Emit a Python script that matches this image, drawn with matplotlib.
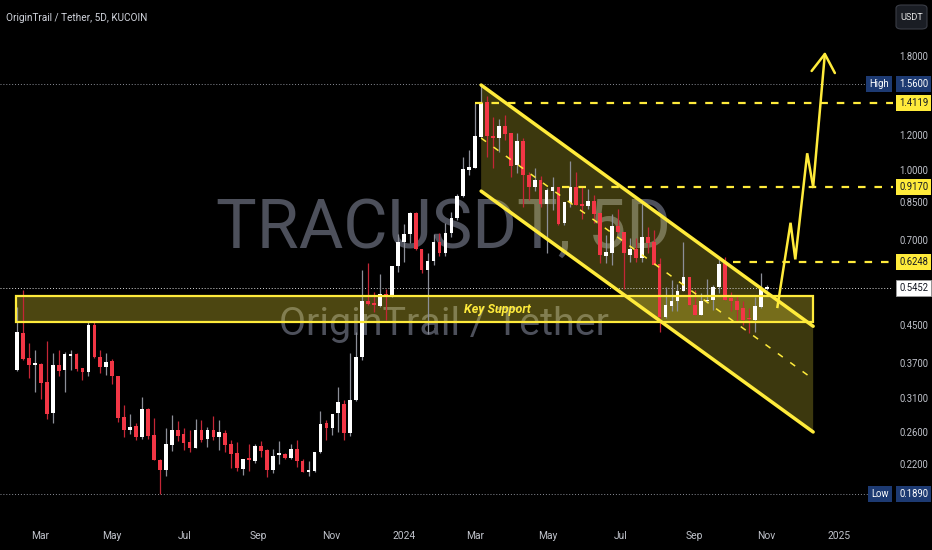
import numpy as np
import pandas as pd
import matplotlib
matplotlib.use("Agg")
import matplotlib.pyplot as plt
import matplotlib.dates as mdates
from matplotlib import font_manager
from matplotlib.patches import Rectangle, Polygon, FancyBboxPatch
from matplotlib.ticker import NullLocator, NullFormatter
from matplotlib.transforms import blended_transform_factory, offset_copy

# ---------------- data ----------------
title_text = "OriginTrail / Tether, 5D, KUCOIN"
watermark_top = "TRACUSDT, 5D"
watermark_bottom = "OriginTrail / Tether"
currency = "USDT"

first_bar = "2023-02-10"
bar_days = 5

opens = [
    .358, .433, .381, .367, .369, .337, .287, .367, .358, .384,
    .388, .361, .354, .452, .383, .363, .375, .347, .281, .262,
    .268, .254, .293, .256, .225, .214, .243, .262, .257, .247,
    .240, .262, .251, .262, .254, .258, .244, .233, .215, .227,
    .224, .242, .237, .214, .231, .232, .227, .238, .224, .212,
    .213, .234, .272, .266, .286, .301, .258, .306, .382, .509,
    .504, .497, .529, .521, .611, .690, .720, .804, .665, .598,
    .627, .690, .654, .725, .780, .875, 1.001, 1.013, 1.188, 1.423,
    1.192, 1.182, 1.257, 1.209, 1.027, 1.162, .975, .918, .951, .840,
    .900, .918, .761, .844, .915, .837, .833, .855, .801, .644,
    .652, .751, .726, .646, .665, .638, .710, .692, .616, .469,
    .497, .509, .537, .577, .500, .475, .509, .513, .547, .619,
    .517, .509, .491, .466, .463, .494, .544,
]
highs = [
    .495, .541, .410, .396, .370, .415, .390, .397, .393, .396,
    .390, .362, .459, .457, .396, .390, .379, .347, .298, .285,
    .272, .311, .294, .279, .226, .265, .284, .275, .266, .263,
    .278, .277, .267, .283, .277, .263, .249, .247, .226, .244,
    .244, .248, .238, .238, .248, .233, .244, .249, .226, .224,
    .235, .290, .276, .285, .328, .306, .390, .436, .598, .619,
    .535, .585, .544, .611, .720, .758, .806, .806, .666, .652,
    .719, .723, .761, .808, .885, 1.072, 1.112, 1.415, 1.560, 1.465,
    1.312, 1.300, 1.328, 1.211, 1.209, 1.178, .992, 1.009, .971, .911,
    .964, .919, .851, 1.050, .992, .915, .907, .880, .802, .716,
    .797, .821, .727, .704, .704, .851, .747, .735, .635, .547,
    .568, .558, .690, .578, .541, .531, .570, .553, .638, .640,
    .533, .526, .509, .491, .521, .590, .553,
]
lows = [
    .355, .376, .344, .320, .308, .278, .272, .347, .320, .358,
    .356, .339, .347, .380, .353, .348, .332, .274, .253, .257,
    .249, .251, .251, .225, .189, .207, .236, .248, .237, .235,
    .239, .247, .241, .250, .237, .235, .216, .213, .208, .213,
    .222, .229, .206, .210, .221, .226, .226, .217, .212, .207,
    .212, .233, .249, .256, .260, .250, .255, .305, .376, .500,
    .483, .494, .463, .520, .593, .625, .686, .663, .590, .430,
    .614, .643, .643, .710, .774, .872, .975, 1.010, 1.184, 1.072,
    1.013, 1.100, 1.168, .967, .987, .829, .858, .900, .829, .654,
    .815, .754, .754, .826, .835, .776, .821, .761, .619, .619,
    .614, .723, .544, .625, .625, .625, .652, .614, .436, .468,
    .485, .485, .536, .499, .474, .474, .508, .487, .531, .514,
    .485, .459, .451, .432, .436, .491, .540,
]
closes = [
    .436, .378, .367, .369, .335, .285, .367, .356, .388, .389,
    .359, .354, .452, .382, .364, .373, .347, .280, .263, .267,
    .254, .293, .255, .225, .214, .244, .262, .255, .246, .240,
    .262, .250, .262, .254, .260, .243, .232, .216, .226, .225,
    .242, .236, .214, .230, .232, .227, .238, .224, .212, .214,
    .234, .271, .266, .285, .303, .258, .306, .383, .509, .502,
    .501, .528, .521, .611, .690, .720, .804, .665, .598, .627,
    .690, .654, .723, .780, .875, 1.004, 1.015, 1.192, 1.411, 1.192,
    1.180, 1.257, 1.205, 1.022, 1.162, .975, .918, .951, .840, .903,
    .915, .757, .851, .918, .836, .833, .855, .798, .646, .655,
    .751, .726, .652, .665, .638, .710, .686, .614, .469, .500,
    .510, .537, .577, .500, .475, .509, .514, .547, .617, .514,
    .509, .487, .463, .464, .497, .544, .5452,
]

price_ticks = [1.8, 1.2, 1.0, 0.85, 0.70, 0.45, 0.37, 0.31, 0.26, 0.22]
month_ticks = ["2023-03-01", "2023-05-01", "2023-07-01", "2023-09-01", "2023-11-01",
               "2024-01-01", "2024-03-01", "2024-05-01", "2024-07-01", "2024-09-01",
               "2024-11-01", "2025-01-01"]
month_labels = ["Mar", "May", "Jul", "Sep", "Nov", "2024", "Mar", "May", "Jul", "Sep",
                "Nov", "2025"]

high_price = 1.56
low_price = 0.189
last_price = 0.5452

level_prices = [1.4119, 0.9170, 0.6248]
level_starts = ["2024-03-01", "2024-05-13", "2024-10-04"]

support_dates = ["2023-02-09", "2024-12-10"]
support_prices = [0.457, 0.524]
support_label = "Key Support"

channel_dates = ["2024-03-06", "2024-12-10"]
channel_upper = [1.55, 0.448]
channel_lower = [0.898, 0.260]

path_dates = ["2024-11-10", "2024-11-21", "2024-11-25", "2024-12-05", "2024-12-10", "2024-12-20"]
path_prices = [0.495, 0.763, 0.632, 1.091, 0.918, 1.84]

# ---------------- style ----------------
BG = "#000000"
YELLOW = "#ffeb3b"
UP_BODY, UP_WICK = "#ffffff", "#8c8f98"
DN_BODY, DN_WICK = "#f23645", "#c42636"
NAVY = "#1d3a72"
AXIS_TXT = "#c0c3cb"
WM_COLOR = "#4d505b"

fonts_present = {f.name for f in font_manager.fontManager.ttflist}
if "Liberation Sans Narrow" in fonts_present:
    UI_FONT, K = "Liberation Sans Narrow", 1.0
else:
    UI_FONT, K = "Roboto", 0.86
plt.rcParams["font.family"] = [UI_FONT, "DejaVu Sans"]

W, H = 932, 550
fig = plt.figure(figsize=(W / 100, H / 100), dpi=100, facecolor=BG)
plot_right, plot_bottom = 893, 522
ax = fig.add_axes([0, (H - plot_bottom) / H, plot_right / W, plot_bottom / H])
ax.set_facecolor(BG)
ax.set_yscale("log")
for s in ax.spines.values():
    s.set_visible(False)

t0 = mdates.date2num(np.datetime64(first_bar))
def dnum(d):
    return mdates.date2num(np.datetime64(d))

xs = mdates.date2num(pd.date_range(first_bar, periods=len(opens), freq=f"{bar_days}D").values)
o, h, l, c = map(np.asarray, (opens, highs, lows, closes))

x_left, x_right = t0 - 14.3, t0 + 736.1
ax.set_xlim(x_left, x_right)
ax.set_ylim(0.1636, 2.401)

# watermark
ax.text(0.497, 0.525, watermark_top, transform=ax.transAxes, ha="center", va="baseline",
        fontsize=57 * K, color=WM_COLOR, zorder=0.2)
ax.text(0.497, 0.358, watermark_bottom, transform=ax.transAxes, ha="center", va="baseline",
        fontsize=33 * K, color=WM_COLOR, zorder=0.2)

# key support zone
s0, s1 = dnum(support_dates[0]), dnum(support_dates[1])
ax.add_patch(Rectangle((s0, support_prices[0]), s1 - s0, support_prices[1] - support_prices[0],
                       facecolor=YELLOW, alpha=0.30, edgecolor="none", zorder=1))
ax.add_patch(Rectangle((s0, support_prices[0]), s1 - s0, support_prices[1] - support_prices[0],
                       facecolor="none", edgecolor=YELLOW, linewidth=1.6, zorder=4))
ax.text(dnum("2024-03-20"), np.sqrt(support_prices[0] * support_prices[1]), support_label,
        ha="center", va="center", color=YELLOW, fontsize=10.5 * K, fontweight="bold",
        fontstyle="italic", zorder=5)

# descending channel
c0, c1 = dnum(channel_dates[0]), dnum(channel_dates[1])
ax.add_patch(Polygon([(c0, channel_upper[0]), (c1, channel_upper[1]),
                      (c1, channel_lower[1]), (c0, channel_lower[0])],
                     closed=True, facecolor=YELLOW, alpha=0.24, edgecolor="none", zorder=1))
ax.plot([c0, c1], channel_upper, color=YELLOW, linewidth=2.5, solid_capstyle="round", zorder=4)
ax.plot([c0, c1], channel_lower, color=YELLOW, linewidth=2.5, solid_capstyle="round", zorder=4)
mid = np.sqrt(np.asarray(channel_upper) * np.asarray(channel_lower))
ax.plot([c0, c1], mid, color=YELLOW, linewidth=1.1, linestyle=(0, (4.0, 6.0)), zorder=4)

# candles
up = c >= o
body_lo = np.minimum(o, c)
body_hi = np.maximum(np.maximum(o, c), body_lo * 1.008)
ax.vlines(xs, l, h, colors=np.where(up, UP_WICK, DN_WICK), linewidth=0.9, zorder=2)
ax.bar(xs, body_hi - body_lo, bottom=body_lo, width=3.1,
       color=np.where(up, UP_BODY, DN_BODY), linewidth=0, zorder=3)

# horizontal levels
for p, d in zip(level_prices, level_starts):
    ax.plot([dnum(d), x_right], [p, p], color=YELLOW, linewidth=1.6,
            linestyle=(0, (3.4, 4.0)), zorder=4, clip_on=False)

# high / low / last price guide lines
ax.axhline(high_price, color="#8a8d96", linewidth=0.7, linestyle=(0, (1, 2)), zorder=1.5)
ax.axhline(low_price, color="#8a8d96", linewidth=0.7, linestyle=(0, (1, 2)), zorder=1.5)
ax.axhline(last_price, color="#d8d8d8", linewidth=0.7, linestyle=(0, (1, 2)), zorder=1.5)

# projected path
px = [dnum(d) for d in path_dates]
ax.plot(px[:-1], path_prices[:-1], color=YELLOW, linewidth=1.8, zorder=5,
        solid_joinstyle="miter")
ax.annotate("", xy=(px[-1], path_prices[-1]), xytext=(px[-2], path_prices[-2]),
            arrowprops=dict(arrowstyle="->,head_length=0.65,head_width=0.42",
                            color=YELLOW, linewidth=1.8, shrinkA=0, shrinkB=0,
                            mutation_scale=20), zorder=5)

# axes ticks
ax.yaxis.tick_right()
ax.yaxis.set_minor_locator(NullLocator())
ax.yaxis.set_minor_formatter(NullFormatter())
ax.set_yticks(price_ticks)
ax.set_yticklabels([f"{p:.4f}" for p in price_ticks])
ax.tick_params(axis="y", length=0, pad=4.5, labelsize=8 * K, labelcolor=AXIS_TXT)
ax.set_xticks([dnum(d) for d in month_ticks])
ax.set_xticklabels(month_labels)
ax.xaxis.set_minor_locator(NullLocator())
ax.tick_params(axis="x", length=0, pad=6.5, labelsize=8.6 * K, labelcolor=AXIS_TXT)

# price scale tags
tag_tr = blended_transform_factory(ax.transAxes, ax.transData)
def value_tag(price, text, fc, tc, ec="none"):
    ax.text(1.0, price, text, transform=offset_copy(tag_tr, fig=fig, x=6, units="dots"),
            ha="left", va="center", fontsize=8 * K, color=tc, clip_on=False, zorder=10,
            bbox=dict(boxstyle="square,pad=0.32", facecolor=fc, edgecolor=ec, linewidth=0.6))

def name_tag(price, text):
    ax.text(1.0, price, text, transform=offset_copy(tag_tr, fig=fig, x=-4, units="dots"),
            ha="right", va="center", fontsize=8 * K, color="#ffffff", clip_on=False, zorder=10,
            bbox=dict(boxstyle="square,pad=0.32", facecolor=NAVY, edgecolor="none"))

name_tag(high_price, "High")
value_tag(high_price, f"{high_price:.4f}", NAVY, "#ffffff")
for p in level_prices:
    value_tag(p, f"{p:.4f}", YELLOW, "#131722")
value_tag(last_price, f"{last_price:.4f}", "#ffffff", "#131722", ec="#9a9a9a")
name_tag(low_price, "Low")
value_tag(low_price, f"{low_price:.4f}", NAVY, "#ffffff")

# header and currency button
fig.text(6 / W, 1 - 18 / H, title_text, ha="left", va="center", fontsize=8.4 * K,
         color="#d1d4dc")
fig.patches.append(FancyBboxPatch((896 / W, 1 - 29 / H), 31 / W, 24 / H,
                                  boxstyle="round,pad=0,rounding_size=0.006",
                                  transform=fig.transFigure, facecolor="#1a1d24",
                                  edgecolor="#3a3d46", linewidth=0.8))
fig.text(911.5 / W, 1 - 17 / H, currency, ha="center", va="center", fontsize=7.6 * K,
         color="#e6e6e6")

fig.savefig("out.png", dpi=100, facecolor=BG)
